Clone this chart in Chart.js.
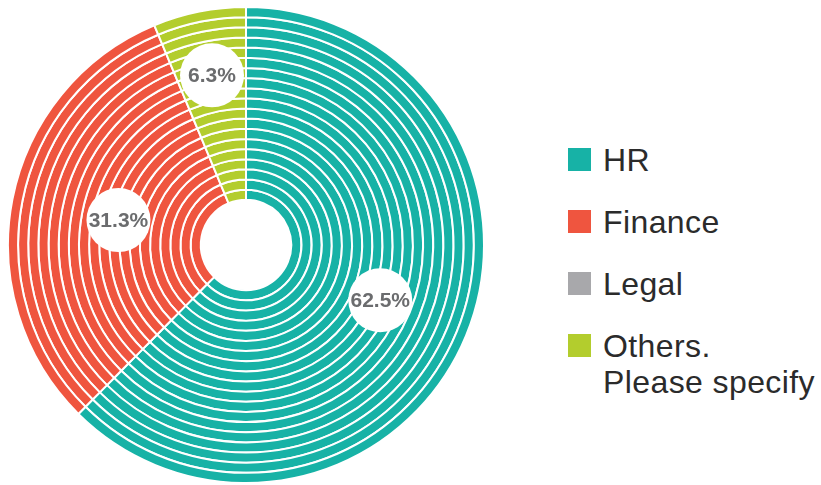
<!DOCTYPE html>
<html>
<head>
<meta charset="utf-8">
<script src="https://cdn.jsdelivr.net/npm/chart.js@4.4.1/dist/chart.umd.min.js"></script>
<style>
  html, body { margin: 0; padding: 0; background: #ffffff; }
  body { width: 821px; height: 485px; position: relative; overflow: hidden; font-family: "Liberation Sans", Arial, sans-serif; }
  #wrap { position: absolute; left: 7px; top: 6px; width: 478px; height: 478px; }
  #legend { position: absolute; left: 568px; top: 148px; margin: 0; padding: 0; list-style: none; }
  #legend li { display: flex; align-items: flex-start; height: 62px; }
  #legend .box { width: 23px; height: 23px; flex: none; margin-top: 0px; }
  #legend .txt { margin-left: 12px; font-size: 32px; line-height: 36px; color: #2b2b2b; margin-top: -6px; white-space: nowrap; letter-spacing: 0.4px; }
</style>
</head>
<body>
<div id="wrap"><canvas id="chart"></canvas></div>
<ul id="legend"></ul>
<script>
// Departments and their share of responses (%)
const categories = ["HR", "Finance", "Legal", "Others.\nPlease specify"];
const shares = [62.5, 31.3, 0, 6.3];
const valueLabels = ["62.5%", "31.3%", "", "6.3%"];
const colors = ["#17b2a6", "#ef553f", "#a8a8ab", "#b3cd2d"];

// Striped look: the same split repeated on concentric rings
const RINGS = 19;
// Where each value badge sits, as a fraction of the outer radius
const badgeRadius = [0.61, 0.546, 0, 0.727];

const badgePlugin = {
  id: "badges",
  afterDatasetsDraw(chart) {
    const ctx = chart.ctx;
    const outer = chart.getDatasetMeta(0).data;
    ctx.save();
    outer.forEach((arc, i) => {
      if (!shares[i]) return;
      const mid = (arc.startAngle + arc.endAngle) / 2;
      const r = arc.outerRadius * badgeRadius[i];
      const x = arc.x + Math.cos(mid) * r;
      const y = arc.y + Math.sin(mid) * r;
      ctx.beginPath();
      ctx.arc(x, y, 32, 0, Math.PI * 2);
      ctx.fillStyle = "#ffffff";
      ctx.fill();
      ctx.fillStyle = "#6b6c6e";
      ctx.font = "bold 21px 'Liberation Sans', Arial, sans-serif";
      ctx.textAlign = "center";
      ctx.textBaseline = "middle";
      ctx.fillText(valueLabels[i], x, y + 1);
    });
    ctx.restore();
  }
};

const datasets = Array.from({ length: RINGS }, () => ({
  data: shares,
  backgroundColor: colors,
  borderColor: "#ffffff",
  borderWidth: 2
}));

new Chart(document.getElementById("chart"), {
  type: "doughnut",
  data: { labels: categories, datasets },
  options: {
    responsive: true,
    maintainAspectRatio: false,
    animation: false,
    cutout: "19%",
    layout: { padding: 0 },
    plugins: {
      legend: { display: false },
      tooltip: { enabled: false }
    }
  },
  plugins: [badgePlugin]
});

// Legend list beside the ring chart
const legend = document.getElementById("legend");
categories.forEach((name, i) => {
  const li = document.createElement("li");
  const box = document.createElement("span");
  box.className = "box";
  box.style.background = colors[i];
  const txt = document.createElement("span");
  txt.className = "txt";
  txt.innerHTML = name.split("\n").join("<br>");
  li.appendChild(box);
  li.appendChild(txt);
  legend.appendChild(li);
});
</script>
</body>
</html>
